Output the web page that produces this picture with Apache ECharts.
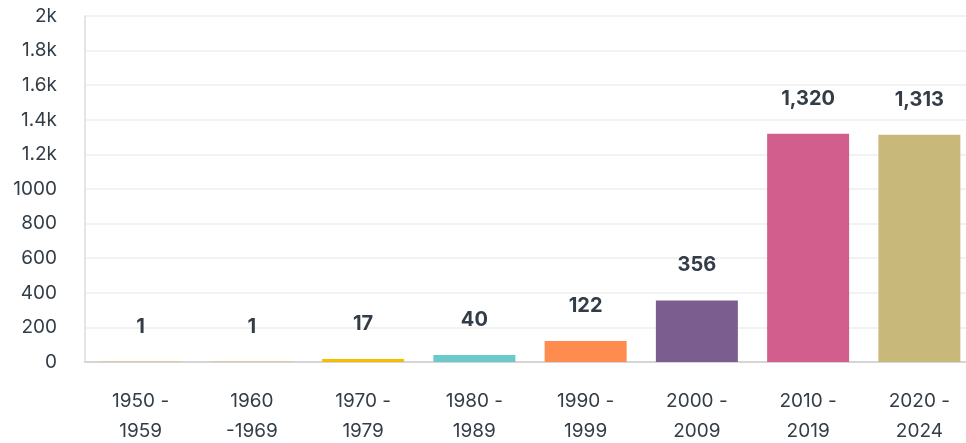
<!DOCTYPE html>
<html>
<head>
<meta charset="utf-8">
<script src="https://cdn.jsdelivr.net/npm/echarts@6/dist/echarts.min.js"></script>
<style>
  html, body { margin: 0; padding: 0; background: #fff; }
  #chart { width: 966px; height: 443px; }
</style>
</head>
<body>
<div id="chart"></div>
<script>
// 各年代数量
const decades = ['1950 -\n1959', '1960\n-1969', '1970 -\n1979', '1980 -\n1989', '1990 -\n1999', '2000 -\n2009', '2010 -\n2019', '2020 -\n2024'];
const counts = [1, 1, 17, 40, 122, 356, 1320, 1313];
const barColors = ['#f2b705', '#f2b705', '#f5bf00', '#6cc9ca', '#ff8c4f', '#7b5e8f', '#d25e8e', '#c8b87a'];

const chart = echarts.init(document.getElementById('chart'));
const textColor = '#333d47';

const option = {
  animation: false,
  grid: {
    left: 85,
    right: -9,
    top: 16,
    bottom: 81,
    containLabel: false,
    outerBoundsMode: 'none'
  },
  xAxis: {
    type: 'category',
    data: decades,
    axisTick: { show: false },
    axisLine: { lineStyle: { color: '#cccccc', width: 1.5 } },
    axisLabel: {
      color: textColor,
      fontFamily: 'Inter',
      fontSize: 19,
      lineHeight: 30,
      margin: 24
    }
  },
  yAxis: {
    type: 'value',
    min: 0,
    max: 2000,
    interval: 200,
    axisLine: { show: true, lineStyle: { color: '#dddddd', width: 1.5 } },
    axisTick: { show: false },
    splitLine: { lineStyle: { color: '#eeeeee', width: 1.5 } },
    axisLabel: {
      color: textColor,
      fontFamily: 'Inter',
      fontSize: 19,
      margin: 28,
      formatter: function (v) {
        return v > 1000 ? (v / 1000) + 'k' : String(v);
      }
    }
  },
  series: [{
    type: 'bar',
    barWidth: 82,
    data: counts.map(function (v, i) {
      return { value: v, itemStyle: { color: barColors[i] } };
    }),
    label: {
      show: true,
      position: 'top',
      distance: 25,
      color: textColor,
      fontFamily: 'Inter',
      fontWeight: 'bold',
      fontSize: 20,
      formatter: function (p) {
        return p.value.toLocaleString('en-US');
      }
    }
  }]
};

chart.setOption(option);
</script>
</body>
</html>
